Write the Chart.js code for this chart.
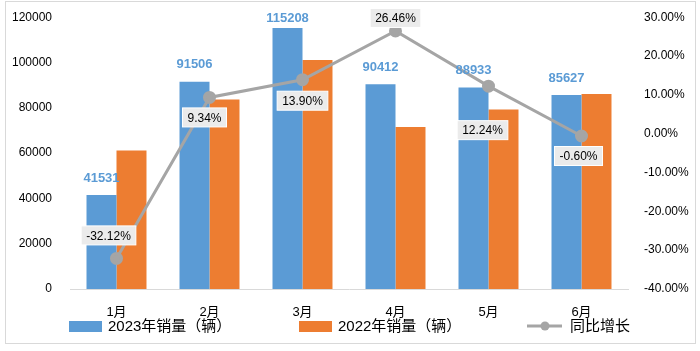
<!DOCTYPE html>
<html>
<head>
<meta charset="utf-8">
<script src="https://cdn.jsdelivr.net/npm/chart.js@4"></script>
<style>
  html, body { margin: 0; padding: 0; background: #fff; }
  #wrap { width: 700px; height: 351px; }
</style>
</head>
<body>
<div id="wrap"><canvas id="myChart" width="700" height="351"></canvas></div>
<script>
const months = ['1月', '2月', '3月', '4月', '5月', '6月'];
const sales2023 = [41531, 91506, 115208, 90412, 88933, 85627];
const sales2022 = [61183, 83690, 101148, 71495, 79235, 86144];
const yoyGrowth = [-32.12, 9.34, 13.90, 26.46, 12.24, -0.60];

const seriesNames = ['2023年销量（辆）', '2022年销量（辆）', '同比增长'];

const BLUE = '#5B9BD5';
const ORANGE = '#ED7D31';
const GRAY = '#A5A5A5';
const FONT = '"Liberation Sans", "Noto Sans CJK SC", sans-serif';

// where each growth label box sits relative to its point
const growthLabelShift = [[-8, -23], [-5, 20], [0, 21], [0, -13], [-6, 44], [-3, 20]];

// white background + thin frame round the chart
const framePlugin = {
    id: 'frame',
    beforeDraw(chart) {
        const ctx = chart.ctx;
        ctx.save();
        ctx.fillStyle = '#fff';
        ctx.fillRect(0, 0, chart.width, chart.height);
        ctx.strokeStyle = '#D9D9D9';
        ctx.lineWidth = 1;
        ctx.strokeRect(5.5, 1.5, 690, 342);
        ctx.restore();
    }
};

// value labels above blue bars and boxed labels on the line
const labelPlugin = {
    id: 'labels',
    afterDatasetsDraw(chart) {
        const ctx = chart.ctx;
        ctx.save();

        const barMeta = chart.getDatasetMeta(1);
        ctx.font = 'bold 13px ' + FONT;
        ctx.fillStyle = BLUE;
        ctx.textAlign = 'center';
        ctx.textBaseline = 'middle';
        barMeta.data.forEach((bar, i) => {
            const y = Math.max(bar.y - 17, 18);
            ctx.fillText(String(sales2023[i]), bar.x, y);
        });

        const lineMeta = chart.getDatasetMeta(0);
        ctx.font = '12px ' + FONT;
        lineMeta.data.forEach((pt, i) => {
            const txt = yoyGrowth[i].toFixed(2) + '%';
            const w = ctx.measureText(txt).width + 10;
            const h = 19;
            const cx = pt.x + growthLabelShift[i][0];
            const cy = pt.y + growthLabelShift[i][1];
            ctx.fillStyle = '#EBEBEB';
            ctx.fillRect(cx - w / 2, cy - h / 2, w, h);
            ctx.strokeStyle = '#fff';
            ctx.lineWidth = 1;
            ctx.strokeRect(cx - w / 2, cy - h / 2, w, h);
            ctx.fillStyle = '#000';
            ctx.fillText(txt, cx, cy + 1);
        });
        ctx.restore();
    }
};

// legend along the bottom
const legendPlugin = {
    id: 'bottomLegend',
    afterDraw(chart) {
        const ctx = chart.ctx;
        const y = 326;
        ctx.save();
        ctx.font = '15px ' + FONT;
        ctx.textBaseline = 'middle';
        ctx.textAlign = 'left';

        ctx.fillStyle = BLUE;
        ctx.fillRect(69, y - 5, 33, 11);
        ctx.fillStyle = '#000';
        ctx.fillText(seriesNames[0], 108, y + 1);

        ctx.fillStyle = ORANGE;
        ctx.fillRect(299, y - 5, 33, 11);
        ctx.fillStyle = '#000';
        ctx.fillText(seriesNames[1], 338, y + 1);

        ctx.strokeStyle = GRAY;
        ctx.lineWidth = 3;
        ctx.beginPath();
        ctx.moveTo(527, y);
        ctx.lineTo(562, y);
        ctx.stroke();
        ctx.fillStyle = GRAY;
        ctx.beginPath();
        ctx.arc(545, y, 4.5, 0, Math.PI * 2);
        ctx.fill();
        ctx.fillStyle = '#000';
        ctx.fillText(seriesNames[2], 570, y + 1);
        ctx.restore();
    }
};

const ctx = document.getElementById('myChart').getContext('2d');
new Chart(ctx, {
    type: 'bar',
    data: {
        labels: months,
        datasets: [
            {
                type: 'line',
                label: seriesNames[2],
                data: yoyGrowth,
                yAxisID: 'y1',
                borderColor: GRAY,
                backgroundColor: GRAY,
                borderWidth: 3,
                pointRadius: 5,
                pointBackgroundColor: GRAY,
                pointBorderColor: GRAY,
                tension: 0,
                order: 0
            },
            {
                label: seriesNames[0],
                data: sales2023,
                backgroundColor: BLUE,
                yAxisID: 'y',
                order: 1
            },
            {
                label: seriesNames[1],
                data: sales2022,
                backgroundColor: ORANGE,
                yAxisID: 'y',
                order: 1
            }
        ]
    },
    options: {
        responsive: false,
        animation: false,
        events: [],
        categoryPercentage: 0.645,
        barPercentage: 1,
        layout: { padding: { top: 15, left: 0, right: 0, bottom: 0 } },
        plugins: {
            legend: { display: false },
            tooltip: { enabled: false },
            title: { display: false }
        },
        scales: {
            x: {
                grid: { display: false },
                border: { color: '#D9D9D9', width: 1 },
                ticks: {
                    color: '#000',
                    font: { size: 13, family: FONT },
                    padding: 8,
                    maxRotation: 0
                },
                afterFit(scale) { scale.height = 62; }
            },
            y: {
                position: 'left',
                min: 0,
                max: 120000,
                grid: { display: false },
                border: { display: false },
                ticks: {
                    stepSize: 20000,
                    color: '#000',
                    font: { size: 12, family: FONT },
                    padding: 10,
                    callback: v => String(v)
                },
                afterFit(scale) { scale.width = 70; }
            },
            y1: {
                position: 'right',
                min: -40,
                max: 30,
                grid: { display: false },
                border: { display: false },
                ticks: {
                    stepSize: 10,
                    color: '#000',
                    font: { size: 12, family: FONT },
                    padding: 8,
                    callback: v => v.toFixed(2) + '%'
                },
                afterFit(scale) { scale.width = 72; }
            }
        }
    },
    plugins: [framePlugin, labelPlugin, legendPlugin]
});
</script>
</body>
</html>
